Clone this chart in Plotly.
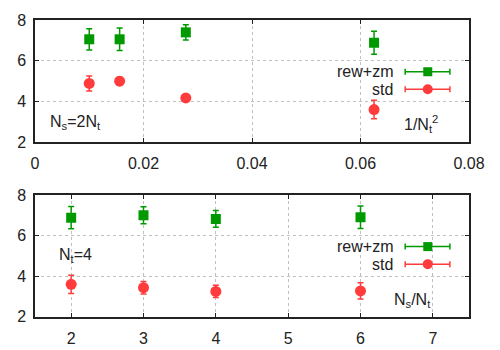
import plotly.graph_objects as go
from plotly.subplots import make_subplots

# top panel: N_s = 2 N_t, against 1/N_t^2
inv_nt2 = [0.0100, 0.0156, 0.0278, 0.0625]
rew_top = [7.05, 7.05, 7.39, 6.88]
rew_top_err = [0.52, 0.55, 0.38, 0.57]
std_top = [4.88, 4.99, 4.17, 3.60]
std_top_err = [0.37, 0.20, 0.05, 0.45]

# bottom panel: N_t = 4, against N_s/N_t
ratio = [2, 3, 4, 6]
rew_bot = [6.88, 7.00, 6.82, 6.90]
rew_bot_err = [0.55, 0.42, 0.41, 0.55]
std_bot = [3.60, 3.43, 3.25, 3.27]
std_bot_err = [0.45, 0.31, 0.30, 0.40]

series_names = ["rew+zm", "std"]
GREEN = "#009a00"
RED = "#ff3b3b"
FONT = "Liberation Sans, Arial, sans-serif"

fig = make_subplots(rows=2, cols=1)

def add_pair(x, rew, rew_err, std, std_err, row):
    fig.add_trace(go.Scatter(x=x, y=rew, mode="markers", name=series_names[0],
                             marker=dict(symbol="square", size=10, color=GREEN),
                             error_y=dict(type="data", array=rew_err, color=GREEN,
                                          thickness=1.5, width=3),
                             showlegend=False), row=row, col=1)
    fig.add_trace(go.Scatter(x=x, y=std, mode="markers", name=series_names[1],
                             marker=dict(symbol="circle", size=11, color=RED),
                             error_y=dict(type="data", array=std_err, color=RED,
                                          thickness=1.5, width=3),
                             showlegend=False), row=row, col=1)

add_pair(inv_nt2, rew_top, rew_top_err, std_top, std_top_err, 1)
add_pair(ratio, rew_bot, rew_bot_err, std_bot, std_bot_err, 2)

axis_style = dict(showline=True, linecolor="#222", linewidth=1.5, mirror="ticks",
                  ticks="inside", ticklen=4, tickwidth=1, tickcolor="#222",
                  showgrid=True, gridcolor="#c0c0c0", griddash="dot", gridwidth=1,
                  zeroline=False, automargin=False,
                  tickfont=dict(size=16, color="#222", family=FONT))

fig.update_xaxes(axis_style)
fig.update_yaxes(axis_style)
fig.update_xaxes(ticklabelstandoff=6)
fig.update_yaxes(ticklabelstandoff=4)
fig.update_xaxes(range=[0, 0.08], tickvals=[0, 0.02, 0.04, 0.06, 0.08],
                 ticktext=["0", "0.02", "0.04", "0.06", "0.08"],
                 domain=[0.07, 0.938], row=1, col=1)
fig.update_xaxes(range=[1.5, 7.5], tickvals=[2, 3, 4, 5, 6, 7],
                 domain=[0.07, 0.938], row=2, col=1)
fig.update_yaxes(range=[2, 8], tickvals=[2, 4, 6, 8], domain=[0.594, 0.943], row=1, col=1)
fig.update_yaxes(range=[2, 8], tickvals=[2, 4, 6, 8], domain=[0.095, 0.443], row=2, col=1)

# hand-made gnuplot-style legend (text, bar with caps, marker)
shapes = []
annotations = []
for xa, ya in [("x", "y"), ("x2", "y2")]:
    for i, (name, col, sym) in enumerate([(series_names[0], GREEN, "rect"),
                                          (series_names[1], RED, "circle")]):
        yy = 0.576 - i * 0.144
        xr, yr = xa + " domain", ya + " domain"
        shapes.append(dict(type="line", xref=xr, yref=yr, x0=0.853, x1=0.956, y0=yy, y1=yy,
                           line=dict(color=col, width=1.5)))
        for xc in (0.853, 0.956):
            shapes.append(dict(type="line", xref=xr, yref=yr, xsizemode="pixel", ysizemode="pixel",
                               xanchor=xc, yanchor=yy, x0=0, x1=0, y0=-3, y1=3,
                               line=dict(color=col, width=1.5)))
        r = 4.5 if sym == "rect" else 5
        shapes.append(dict(type=sym, xref=xr, yref=yr, xsizemode="pixel", ysizemode="pixel",
                           xanchor=0.905, yanchor=yy, x0=-r, x1=r, y0=-r, y1=r,
                           fillcolor=col, line=dict(width=0)))
        annotations.append(dict(text=name, xref=xr, yref=yr, x=0.829, y=yy,
                                xanchor="right", yanchor="middle", showarrow=False,
                                font=dict(size=16, color="#222", family=FONT)))

labels = [("N<sub>s</sub>=2N<sub>t</sub>", "x domain", "y domain", 0.03, 0.16),
          ("1/N<sub>t</sub><sup>2</sup>", "x domain", "y domain", 0.845, 0.15),
          ("N<sub>t</sub>=4", "x2 domain", "y2 domain", 0.05, 0.50),
          ("N<sub>s</sub>/N<sub>t</sub>", "x2 domain", "y2 domain", 0.822, 0.13)]
for txt, xr, yr, x, y in labels:
    annotations.append(dict(text=txt, xref=xr, yref=yr, x=x, y=y, xanchor="left",
                            yanchor="middle", showarrow=False,
                            font=dict(size=16, color="#222", family=FONT)))

fig.update_layout(width=500, height=350, margin=dict(l=0, r=0, t=0, b=0),
                  paper_bgcolor="white", plot_bgcolor="white",
                  shapes=shapes, annotations=annotations,
                  font=dict(family=FONT, size=16, color="#222"))

fig.write_html("out.html", config={"displayModeBar": False},
               post_script="document.body.style.margin = '0';")
